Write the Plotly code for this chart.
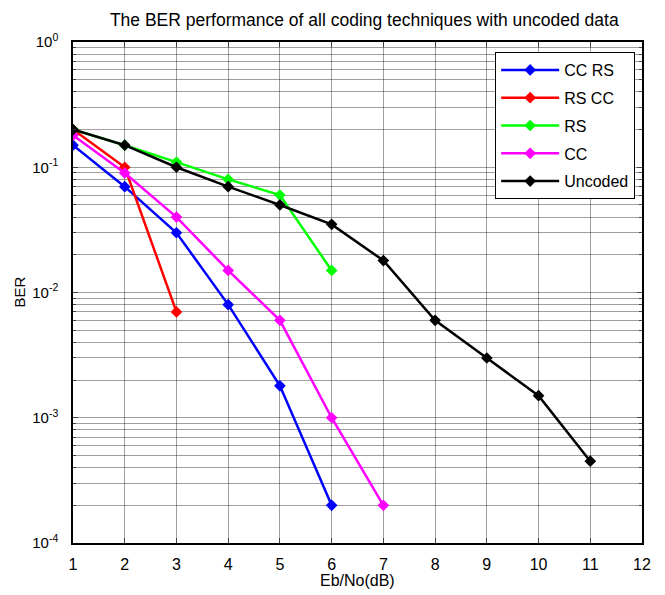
import plotly.graph_objects as go

x_ccrs = [1, 2, 3, 4, 5, 6]
ber_ccrs = [0.15, 0.07, 0.03, 0.008, 0.0018, 0.0002]
x_rscc = [1, 2, 3]
ber_rscc = [0.2, 0.1, 0.007]
x_rs = [1, 2, 3, 4, 5, 6]
ber_rs = [0.2, 0.15, 0.11, 0.08, 0.06, 0.015]
x_cc = [1, 2, 3, 4, 5, 6, 7]
ber_cc = [0.18, 0.09, 0.04, 0.015, 0.006, 0.001, 0.0002]
x_unc = [1, 2, 3, 4, 5, 6, 7, 8, 9, 10, 11]
ber_unc = [0.2, 0.15, 0.1, 0.07, 0.05, 0.035, 0.018, 0.006, 0.003, 0.0015, 0.00045]

series = [
    ("CC RS", x_ccrs, ber_ccrs, "#0000ff"),
    ("RS CC", x_rscc, ber_rscc, "#ff0000"),
    ("RS", x_rs, ber_rs, "#00ff00"),
    ("CC", x_cc, ber_cc, "#ff00ff"),
    ("Uncoded", x_unc, ber_unc, "#000000"),
]

x_ticks = list(range(1, 13))
y_tickvals = [1e-4, 1e-3, 1e-2, 1e-1, 1]
y_ticktext = ["10<sup>-4</sup>", "10<sup>-3</sup>", "10<sup>-2</sup>", "10<sup>-1</sup>", "10<sup>0</sup>"]
minor_vals = [m * 10 ** e for e in range(-4, 0) for m in range(2, 10)]
x_title = "Eb/No(dB)"
y_title = "BER"

fig = go.Figure()
for name, xs, ys, col in series:
    fig.add_trace(go.Scatter(
        x=xs, y=ys, name=name, mode="lines+markers", legendgroup=name,
        line=dict(color=col, width=2.5),
        marker=dict(symbol="diamond", size=9, color=col),
    ))

grid_col = "rgba(0,0,0,0.38)"
fig.update_layout(
    width=649, height=587,
    paper_bgcolor="white", plot_bgcolor="white",
    font=dict(family="Liberation Sans, Arial, sans-serif", size=15, color="black"),
    margin=dict(l=65, r=15, t=34, b=52),
    title=dict(text="The BER performance of all coding techniques with uncoded data",
               x=0.549, xanchor="center", y=1 - 12 / 587, yanchor="middle", font=dict(size=17.5)),
    showlegend=True,
    legend=dict(x=0.988, y=0.98, xanchor="right", yanchor="top",
                bordercolor="black", borderwidth=1, bgcolor="white",
                font=dict(size=16), tracegroupgap=4, itemwidth=58),
    annotations=[
        dict(text=x_title, xref="paper", yref="paper", x=0.5, y=0, xanchor="center",
             yanchor="middle", yshift=-37, showarrow=False, font=dict(size=16)),
        dict(text=y_title, xref="paper", yref="paper", x=0, y=0.5, xanchor="center",
             yanchor="middle", xshift=-54, textangle=-90, showarrow=False, font=dict(size=15)),
    ],
)
fig.update_xaxes(
    range=[1, 12], tickvals=x_ticks, ticks="inside", ticklen=5,
    showline=True, linecolor="black", linewidth=1.5, mirror="ticks",
    showgrid=True, gridcolor=grid_col, gridwidth=1, zeroline=False,
    tickfont=dict(size=16), ticklabelstandoff=6, automargin=False,
)
fig.update_yaxes(
    type="log", range=[-4, 0], tickvals=y_tickvals, ticktext=y_ticktext,
    ticks="inside", ticklen=5,
    showline=True, linecolor="black", linewidth=1.5, mirror="ticks",
    showgrid=True, gridcolor=grid_col, gridwidth=1,
    minor=dict(tickvals=minor_vals, showgrid=True, gridcolor=grid_col, ticks="inside", ticklen=3),
    tickfont=dict(size=15), ticklabelstandoff=10, automargin=False,
)

fig.write_html("out.html")
